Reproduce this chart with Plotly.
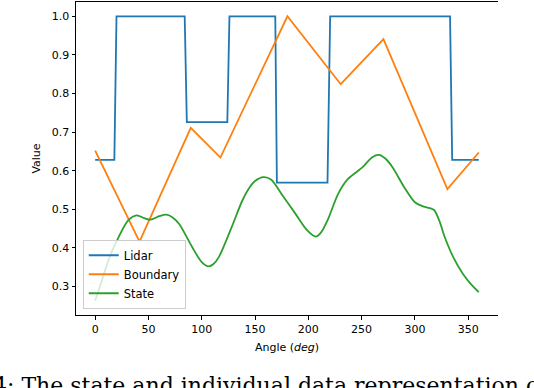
import plotly.graph_objects as go

# Lidar reading (step-like)
lidar_angle = [0, 18, 20, 84, 86, 124, 126, 169, 170.5, 218, 220.5, 333, 335, 360]
lidar_value = [0.628, 0.628, 1.0, 1.0, 0.726, 0.726, 1.0, 1.0, 0.569, 0.569, 1.0, 1.0, 0.628, 0.628]

# Boundary (piecewise linear)
boundary_angle = [0, 41.6, 89.7, 117.5, 180.4, 230.4, 270.5, 330.5, 360]
boundary_value = [0.652, 0.416, 0.711, 0.634, 1.0, 0.824, 0.941, 0.552, 0.647]

# State (smooth)
state_angle = [0, 7, 14, 22, 31, 39, 46, 52, 60, 67, 73, 79, 91, 100, 106.5, 111, 116,
               128, 138, 145, 150, 158, 165, 176, 188, 199, 207, 212, 218, 228, 237,
               251, 260, 266.5, 272, 279, 290, 300, 307, 314, 318, 323, 328, 336,
               345, 352, 360]
state_value = [0.263, 0.322, 0.380, 0.428, 0.471, 0.484, 0.477, 0.473, 0.482, 0.486,
               0.478, 0.461, 0.402, 0.363, 0.352, 0.358, 0.376, 0.453, 0.522, 0.557,
               0.573, 0.583, 0.577, 0.535, 0.488, 0.445, 0.429, 0.440, 0.471, 0.540,
               0.578, 0.609, 0.635, 0.641, 0.632, 0.609, 0.557, 0.518, 0.508, 0.503,
               0.498, 0.470, 0.428, 0.376, 0.333, 0.308, 0.285]

FONT = "DejaVu Sans"
W, H = 534, 388
L, R, T, B = 76, 36, 2, 73

fig = go.Figure()
fig.add_trace(go.Scatter(x=lidar_angle, y=lidar_value, mode="lines", name="Lidar",
                         line=dict(color="#1f77b4", width=1.8)))
fig.add_trace(go.Scatter(x=boundary_angle, y=boundary_value, mode="lines", name="Boundary",
                         line=dict(color="#ff7f0e", width=1.8)))
fig.add_trace(go.Scatter(x=state_angle, y=state_value, mode="lines", name="State",
                         line=dict(color="#2ca02c", width=1.8, shape="spline", smoothing=0.8)))

ph = H - T - B
fig.update_layout(
    width=W, height=H,
    margin=dict(l=L, r=R, t=T, b=B),
    paper_bgcolor="white", plot_bgcolor="white",
    font=dict(family=FONT, size=11, color="black"),
    showlegend=True,
    legend=dict(x=0.016, y=0.02, xanchor="left", yanchor="bottom",
                bgcolor="rgba(255,255,255,0.8)", bordercolor="#cccccc", borderwidth=1,
                font=dict(size=11.5), itemwidth=30, tracegroupgap=0),
    xaxis=dict(range=[-18, 378], tickvals=[0, 50, 100, 150, 200, 250, 300, 350],
               showgrid=False, zeroline=False, showline=True, linecolor="black",
               linewidth=1, mirror=True, ticks="outside", ticklen=3.5, tickcolor="black",
               title=dict(text="Angle (<i>deg</i>)", standoff=8, font=dict(size=11))),
    yaxis=dict(range=[0.226, 1.037], tickvals=[0.3, 0.4, 0.5, 0.6, 0.7, 0.8, 0.9, 1.0],
               tickformat=".1f", showgrid=False, zeroline=False, showline=True,
               linecolor="black", linewidth=1, ticks="outside", ticklen=3.5,
               tickcolor="black",
               title=dict(text="Value", standoff=8, font=dict(size=11))),
)

# caption cut off at the bottom of the picture
fig.add_annotation(text="4: The state and individual data representation of",
                   xref="paper", yref="paper", x=-(L + 9) / (W - L - R), y=-(371 - (H - B)) / ph,
                   xanchor="left", yanchor="top", showarrow=False,
                   font=dict(family="DejaVu Serif", size=22, color="black"))

fig.write_html("out.html", config={"displayModeBar": False},
               post_script="document.body.style.margin='0';")
